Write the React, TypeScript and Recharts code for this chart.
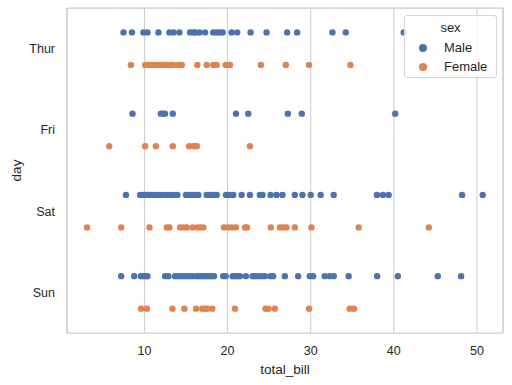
import React from 'react';
import { ScatterChart, Scatter, XAxis, YAxis, CartesianGrid, ReferenceLine } from 'recharts';

const days = ['Thur', 'Fri', 'Sat', 'Sun'];
const xTicks = [10, 20, 30, 40, 50];

const thurMale = [7.48, 8.49, 9.88, 10.36, 11.68, 13.0, 13.48, 14.2, 15.49, 15.88, 16.09, 16.6, 17.29, 18.28, 18.69, 19.0, 19.41, 20.49, 21.16, 22.77, 24.69, 27.17, 28.37, 32.62, 34.22, 41.19];
const thurFemale = [8.37, 10.08, 10.48, 10.89, 11.28, 11.68, 12.09, 12.48, 12.76, 13.09, 13.48, 14.08, 14.49, 16.36, 17.49, 18.28, 18.69, 19.77, 20.29, 24.01, 27.01, 29.8, 34.78];
const friMale = [8.56, 11.97, 12.21, 12.48, 13.41, 21.01, 22.49, 27.25, 28.93, 40.17];
const friFemale = [5.76, 10.08, 11.37, 13.41, 15.37, 15.88, 16.09, 16.29, 22.69];
const satMale = [7.77, 9.48, 9.88, 10.2, 10.48, 10.77, 11.08, 11.49, 11.8, 12.09, 12.6, 13.09, 13.48, 13.96, 15.0, 15.28, 15.57, 15.88, 16.2, 16.48, 17.49, 17.8, 18.09, 18.37, 18.69, 19.81, 20.08, 20.37, 20.68, 21.69, 22.69, 23.89, 24.21, 25.17, 25.89, 26.61, 28.09, 29.01, 30.0, 31.2, 32.77, 37.97, 38.69, 39.38, 48.22, 50.7];
const satFemale = [3.09, 7.2, 10.6, 12.69, 13.0, 14.29, 14.68, 15.09, 15.81, 16.36, 16.69, 17.08, 19.57, 20.08, 20.49, 21.01, 22.09, 22.36, 25.21, 26.29, 26.69, 27.09, 28.09, 30.09, 35.77, 44.21];
const sunMale = [7.2, 8.76, 9.57, 9.88, 10.2, 10.36, 12.48, 12.88, 13.68, 13.96, 14.29, 14.6, 14.89, 15.16, 15.49, 15.81, 16.29, 16.6, 16.89, 17.17, 17.49, 17.8, 18.09, 18.37, 19.48, 19.77, 20.61, 20.89, 21.16, 21.49, 22.21, 23.01, 23.29, 23.69, 24.09, 24.49, 25.17, 25.48, 26.89, 28.49, 29.89, 30.29, 31.69, 32.29, 32.77, 34.57, 38.0, 40.49, 45.29, 48.1];
const sunFemale = [9.6, 10.29, 13.36, 14.8, 16.21, 16.96, 17.29, 17.56, 18.16, 20.89, 24.57, 24.93, 25.69, 29.81, 34.69, 35.21];

const maleByDay = [thurMale, friMale, satMale, sunMale];
const femaleByDay = [thurFemale, friFemale, satFemale, sunFemale];

const toPoints = (byDay: number[][], offset: number) =>
  byDay.flatMap((vals, i) => vals.map((x) => ({ x, y: i + offset })));

const maleData = toPoints(maleByDay, -0.2);
const femaleData = toPoints(femaleByDay, 0.2);

const MALE = '#4C72B0';
const FEMALE = '#DD8452';
const FONT = '"Liberation Sans", Arial, sans-serif';
const X_MIN = 0.68;
const X_MAX = 53.14;

const dot = (color: string) => (props: any) => (
  <circle cx={props.cx} cy={props.cy} r={3.2} fill={color} />
);

const DayLabel = (props: any) => {
  const vb = props.viewBox || { x: 0, y: 8, width: 67, height: 325 };
  const cx = vb.x + 16;
  const cy = vb.y + vb.height / 2;
  return (
    <text
      x={cx}
      y={cy}
      transform={`rotate(-90 ${cx} ${cy})`}
      textAnchor="middle"
      dominantBaseline="central"
      fill="#262626"
      fontSize={13.5}
      fontFamily={FONT}
    >
      day
    </text>
  );
};

const LegendBox = () => (
  <div
    style={{
      position: 'absolute',
      left: 404,
      top: 15,
      width: 93,
      height: 63,
      border: '1px solid #d6d6d6',
      borderRadius: 3,
      background: 'rgba(255,255,255,0.8)',
      fontFamily: FONT,
      fontSize: 13,
      color: '#262626',
      boxSizing: 'border-box',
    }}
  >
    <div style={{ position: 'absolute', left: 0, width: '100%', textAlign: 'center', top: 4 }}>sex</div>
    {[['Male', MALE, 24], ['Female', FEMALE, 43]].map(([name, color, top]) => (
      <div key={name as string} style={{ position: 'absolute', left: 14, top: top as number, display: 'flex', alignItems: 'center' }}>
        <span style={{ display: 'inline-block', width: 8, height: 8, borderRadius: 4, background: color as string }} />
        <span style={{ marginLeft: 17 }}>{name}</span>
      </div>
    ))}
  </div>
);

export default function App() {
  return (
    <div style={{ position: 'absolute', left: 0, top: 0, width: 512, height: 385, background: '#fff' }}>
      <ScatterChart width={512} height={385} margin={{ top: 8, right: 9, bottom: 0, left: 0 }}>
        <CartesianGrid horizontal={false} stroke="#cccccc" strokeWidth={1} />
        <XAxis
          type="number"
          dataKey="x"
          domain={[X_MIN, X_MAX]}
          ticks={xTicks}
          allowDataOverflow
          height={52}
          tickLine={false}
          tickMargin={7}
          axisLine={{ stroke: '#cccccc', strokeWidth: 1.25 }}
          tick={{ fill: '#262626', fontSize: 12.5, fontFamily: FONT }}
          label={{ value: 'total_bill', position: 'insideBottom', offset: 11, fill: '#262626', fontSize: 13.5, fontFamily: FONT }}
        />
        <YAxis
          type="number"
          dataKey="y"
          domain={[-0.5, 3.5]}
          reversed
          ticks={[0, 1, 2, 3]}
          tickFormatter={(v: number) => days[v]}
          width={67}
          tickLine={false}
          tickMargin={6}
          axisLine={{ stroke: '#cccccc', strokeWidth: 1.25 }}
          tick={{ fill: '#262626', fontSize: 12.5, fontFamily: FONT }}
          label={<DayLabel />}
        />
        <ReferenceLine y={-0.5} stroke="#cccccc" strokeWidth={1.25} />
        <ReferenceLine x={X_MAX} stroke="#cccccc" strokeWidth={1.25} />
        <Scatter name="Male" data={maleData} fill={MALE} shape={dot(MALE)} isAnimationActive={false} />
        <Scatter name="Female" data={femaleData} fill={FEMALE} shape={dot(FEMALE)} isAnimationActive={false} />
      </ScatterChart>
      <LegendBox />
    </div>
  );
}
